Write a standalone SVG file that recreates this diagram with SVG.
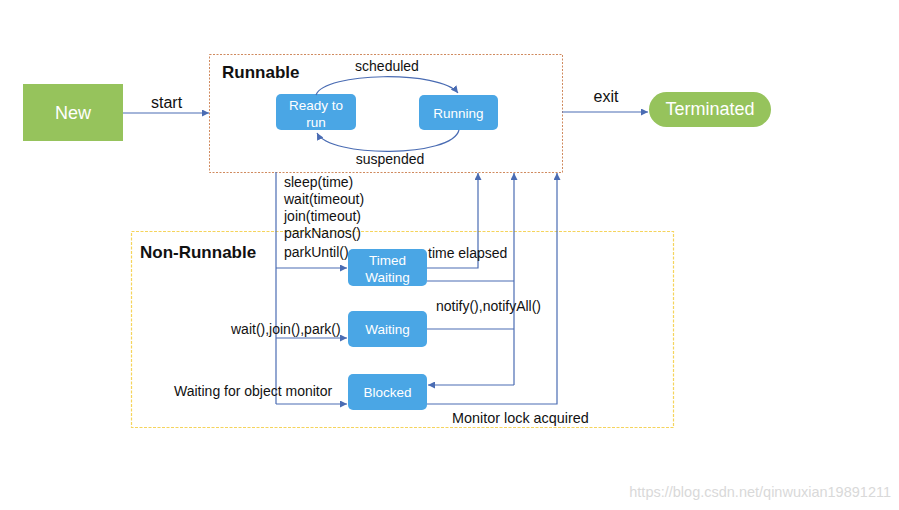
<svg xmlns="http://www.w3.org/2000/svg" width="899" height="510" viewBox="0 0 899 510">
<defs>
<marker id="ah" viewBox="0 0 10 10" refX="10" refY="5" markerWidth="7" markerHeight="7" markerUnits="userSpaceOnUse" orient="auto">
<path d="M0,0 L10,5 L0,10 z" fill="#4a6cb3"/>
</marker>
<style>
.lbl{font-family:"Liberation Sans",Arial,sans-serif;font-size:14px;fill:#111}
.big{font-size:16px}
.ttl{font-family:"Liberation Sans",Arial,sans-serif;font-size:17px;font-weight:bold;fill:#111}
.st{fill:#4aa6e5}
.stt{font-family:"Liberation Sans",Arial,sans-serif;font-size:13.5px;fill:#fff;text-anchor:middle}
.grn{fill:#96c35c}
.grt{font-family:"Liberation Sans",Arial,sans-serif;font-size:18px;fill:#fff;text-anchor:middle}
.ln{fill:none;stroke:#4a6cb3;stroke-width:1.2}
.arr{marker-end:url(#ah)}
</style>
</defs>
<rect width="899" height="510" fill="#fff"/>

<g id="runnable">
<rect x="209.5" y="54.5" width="353" height="118" fill="none" stroke="#d08a5e" stroke-width="1" stroke-dasharray="2,1.5"/>
<text class="ttl" x="222" y="78">Runnable</text>
</g>
<g id="non-runnable">
<rect x="131.5" y="231.5" width="542" height="196" fill="none" stroke="#f5d45c" stroke-width="1.2" stroke-dasharray="3,1.5"/>
<text class="ttl" x="140" y="258">Non-Runnable</text>
</g>

<g id="new">
<rect class="grn" x="23" y="84" width="100" height="57"/>
<text class="grt" x="73" y="119">New</text>
</g>
<g id="terminated">
<rect class="grn" x="649" y="92" width="122" height="35" rx="17.5"/>
<text class="grt" x="710" y="115">Terminated</text>
</g>
<g id="ready">
<rect class="st" x="276" y="94" width="80" height="36" rx="5"/>
<text class="stt" x="316" y="110">Ready to</text>
<text class="stt" x="316" y="127">run</text>
</g>
<g id="running">
<rect class="st" x="419" y="95" width="79" height="35" rx="5"/>
<text class="stt" x="458.5" y="118">Running</text>
</g>
<g id="timed-waiting">
<rect class="st" x="348" y="249" width="79" height="37" rx="5"/>
<text class="stt" x="387.5" y="265">Timed</text>
<text class="stt" x="387.5" y="282">Waiting</text>
</g>
<g id="waiting">
<rect class="st" x="348" y="311" width="79" height="36" rx="5"/>
<text class="stt" x="387.5" y="334">Waiting</text>
</g>
<g id="blocked">
<rect class="st" x="348" y="374" width="79" height="36" rx="5"/>
<text class="stt" x="387.5" y="397">Blocked</text>
</g>

<g id="connectors">
<path class="ln arr" d="M123,113 H209"/>
<path class="ln arr" d="M562,112 H648"/>
<path class="ln arr" d="M316,95 C324,72 440,70 458,93"/>
<path class="ln arr" d="M459,130 C452,158 330,158 317,133"/>
<path class="ln" d="M276,172 V404"/>
<path class="ln arr" d="M276,268 H347"/>
<path class="ln arr" d="M276,338 H347"/>
<path class="ln arr" d="M276,404 H347"/>
<path class="ln arr" d="M427,268 H478 V173"/>
<path class="ln arr" d="M514,385 V173"/>
<path class="ln" d="M427,281 H514"/>
<path class="ln" d="M427,329 H514"/>
<path class="ln arr" d="M514,385 H428"/>
<path class="ln arr" d="M427,404 H557 V173"/>
</g>

<g id="labels">
<text class="lbl big" x="151" y="108">start</text>
<text class="lbl big" x="606" y="102" text-anchor="middle">exit</text>
<text class="lbl" x="387" y="71" text-anchor="middle">scheduled</text>
<text class="lbl" x="390" y="164" text-anchor="middle">suspended</text>
<text class="lbl" x="284" y="187">sleep(time)</text>
<text class="lbl" x="284" y="204">wait(timeout)</text>
<text class="lbl" x="284" y="221">join(timeout)</text>
<text class="lbl" x="284" y="238">parkNanos()</text>
<text class="lbl" x="284" y="257">parkUntil()</text>
<text class="lbl" x="428" y="258">time elapsed</text>
<text class="lbl" x="436" y="311">notify(),notifyAll()</text>
<text class="lbl" x="231" y="334">wait(),join(),park()</text>
<text class="lbl" x="174" y="396">Waiting for object monitor</text>
<text class="lbl" x="452" y="423" style="font-size:14.4px">Monitor lock acquired</text>
</g>
<text x="891" y="497" text-anchor="end" style="font-family:'Liberation Sans',Arial,sans-serif;font-size:14.5px;fill:#d9d9d9">https://blog.csdn.net/qinwuxian19891211</text>
</svg>
